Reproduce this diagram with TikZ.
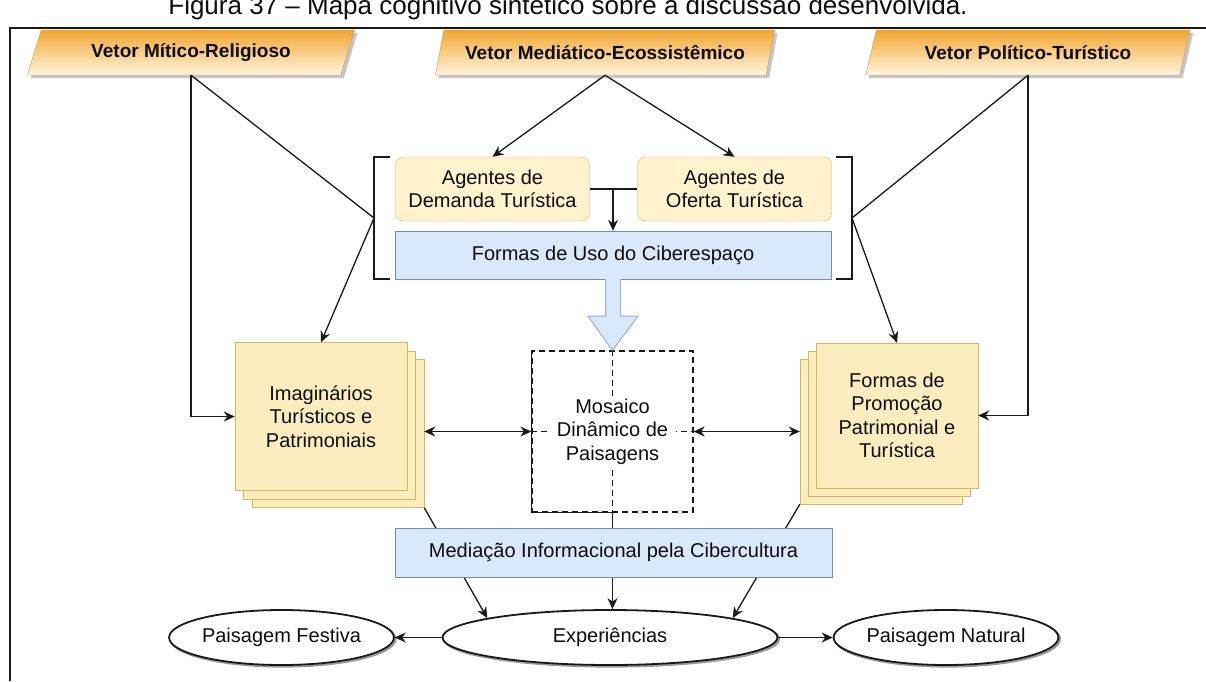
\documentclass[tikz,border=0pt]{standalone}
\usepackage{fontspec}
\setmainfont{Liberation Sans}
\usetikzlibrary{arrows.meta,positioning,shapes.geometric,calc,shadows}

\definecolor{vettop}{RGB}{242,166,48}
\definecolor{vetbot}{RGB}{255,246,224}
\definecolor{vetline}{RGB}{200,150,70}
\definecolor{yfill}{RGB}{255,242,204}
\definecolor{yline}{RGB}{214,182,86}
\definecolor{sfill}{RGB}{251,237,190}
\definecolor{bfill}{RGB}{218,232,252}
\definecolor{bline}{RGB}{108,142,191}

\begin{document}
\begin{tikzpicture}[x=1pt, y=-1pt,
                font=\fontsize{20}{23.5}\selectfont,
                every node/.style={text=black!95},
                vetor/.style={trapezium, trapezium left angle=63, trapezium right angle=117, trapezium stretches=true, minimum width=328pt, minimum height=45pt, inner sep=0pt, draw=vetline, top color=vettop, bottom color=vetbot, font=\fontsize{19}{22}\selectfont\bfseries, drop shadow={shadow xshift=3pt, shadow yshift=-3pt, fill=black!45, opacity=.5}},
                agbox/.style={rectangle, rounded corners=8pt, draw=yline, fill=yfill, minimum width=194pt, minimum height=64pt, align=center, inner sep=2pt},
                bluebox/.style={rectangle, draw=bline, fill=bfill, inner sep=2pt},
                stackbox/.style={rectangle, draw=yline, fill=sfill, align=center, inner sep=2pt},
                mosbox/.style={rectangle, draw=black!90, line width=1.3pt, dash pattern=on 6pt off 4pt, minimum width=161pt, minimum height=161pt},
                oval/.style={ellipse, draw=black!90, line width=1.8pt, fill=white, minimum height=55pt, inner sep=0pt, copy shadow={shadow xshift=1.5pt, shadow yshift=-1.5pt, fill=white, draw=black!40, line width=2.2pt}},
                arr/.style={-{Stealth[length=11pt,width=10pt]}, line width=1.3pt, black!90},
                dblarr/.style={{Stealth[length=11pt,width=10pt]}-{Stealth[length=11pt,width=10pt]}, line width=1.3pt, black!90},
                ln/.style={line width=1.3pt, black!90},
                dsh/.style={line width=1.3pt, black!90, dash pattern=on 6pt off 4pt},
                bigarr/.style={draw=bline!70, fill=bfill, line width=1pt},
            ]
            \useasboundingbox (0,0) rectangle (1206,681);
            \draw[ln] (10,681) -- (10,28) -- (1206,28);
            \node[anchor=base, font=\fontsize{26}{30}\selectfont] (tit) at (568,14) {Figura 37 – Mapa cognitivo sintético sobre a discussão desenvolvida.};

            \node[vetor] (v1) at (191,52.5) {Vetor Mítico-Religioso};
            \node[vetor, minimum width=340pt] (v2) at (605,52.5) {Vetor Mediático-Ecossistêmico};
            \node[vetor, minimum width=325pt] (v3) at (1028,52.5) {Vetor Político-Turístico};

            \node[agbox] (ag1) at (492.5,189) {Agentes de\\Demanda Turística};
            \node[agbox] (ag2) at (734.5,189) {Agentes de\\Oferta Turística};
            \node[bluebox, minimum width=436pt, minimum height=48pt] (uso) at (613,255) {Formas de Uso do Ciberespaço};

            \draw[ln] (390,157) -- (374,157) -- (374,279) -- (390,279);
            \draw[ln] (836,157) -- (852,157) -- (852,279) -- (836,279);
            \coordinate (bl) at (374,218);
            \coordinate (br) at (852,218);

            \node[stackbox, minimum width=172pt, minimum height=148pt,
                  copy shadow={shadow xshift=17pt, shadow yshift=-17pt, fill=sfill, draw=yline, line width=1pt},
                  copy shadow={shadow xshift=8.5pt, shadow yshift=-8.5pt, fill=sfill, draw=yline, line width=1pt}]
                  (im) at (321,416.5) {Imaginários\\Turísticos e\\Patrimoniais};
            \node[stackbox, minimum width=162pt, minimum height=145pt,
                  copy shadow={shadow xshift=-16pt, shadow yshift=-16pt, fill=sfill, draw=yline, line width=1pt},
                  copy shadow={shadow xshift=-8pt, shadow yshift=-8pt, fill=sfill, draw=yline, line width=1pt}]
                  (pr) at (897,415.5) {Formas de\\Promoção\\Patrimonial e\\Turística};

            \node[mosbox] (mo) at (612.5,431.5) {};
            \draw[dsh] (mo.north) -- (mo.south);
            \draw[dsh] (mo.west) -- (mo.east);
            \draw[ln] (mo.south) -- (mo.south west) -- (mo.north west);
            \node[fill=white, align=center, inner xsep=8pt, inner ysep=3pt] (mot) at (mo) {Mosaico\\Dinâmico de\\Paisagens};

            \node[oval, minimum width=224pt] (pf) at (281.5,637.5) {Paisagem Festiva};
            \node[oval, minimum width=335pt] (ex) at (610,637.5) {Experiências};
            \node[oval, minimum width=224pt] (pn) at (946,637.5) {Paisagem Natural};

            \draw[arr] (v2.south) -- (ag1.north);
            \draw[arr] (v2.south) -- (ag2.north);
            \draw[ln] (ag1.east) -- (ag2.west);
            \draw[arr] (ag1.east -| uso.north) -- (uso.north);
            \draw[bigarr] ($(uso.south)+(-7.5,0)$) -- ($(uso.south)+(-7.5,37)$) -- ($(uso.south)+(-25,37)$) -- (mo.north) -- ($(uso.south)+(25,37)$) -- ($(uso.south)+(7.5,37)$) -- ($(uso.south)+(7.5,0)$);

            \draw[arr] (v1.south) -- (bl) -- (im.north);
            \draw[arr] (v1.south) |- (im.west);
            \draw[arr] (v3.south) -- (br) -- (pr.north);
            \draw[arr] (v3.south) |- (pr.east);

            \coordinate (imr) at ([xshift=17pt]im.east);
            \coordinate (prl) at ([xshift=-16pt]pr.west);
            \draw[dblarr] (imr |- mo.west) -- (mo.west);
            \draw[dblarr] (mo.east) -- (prl |- mo.east);

            \draw[arr] ([xshift=17pt,yshift=-17pt]im.south east) -- (ex.171);
            \draw[arr] ([xshift=-16pt,yshift=-16pt]pr.south west) -- (ex.9);
            \draw[arr] (mo.south) -- (mo.south |- ex.north);
            \node[bluebox, minimum width=437pt, minimum height=49pt] (med) at (613.5,552.5) {Mediação Informacional pela Cibercultura};

            \draw[arr] (ex.west) -- (pf.east);
            \draw[arr] (ex.east) -- (pn.west);
        \end{tikzpicture}
\end{document}
